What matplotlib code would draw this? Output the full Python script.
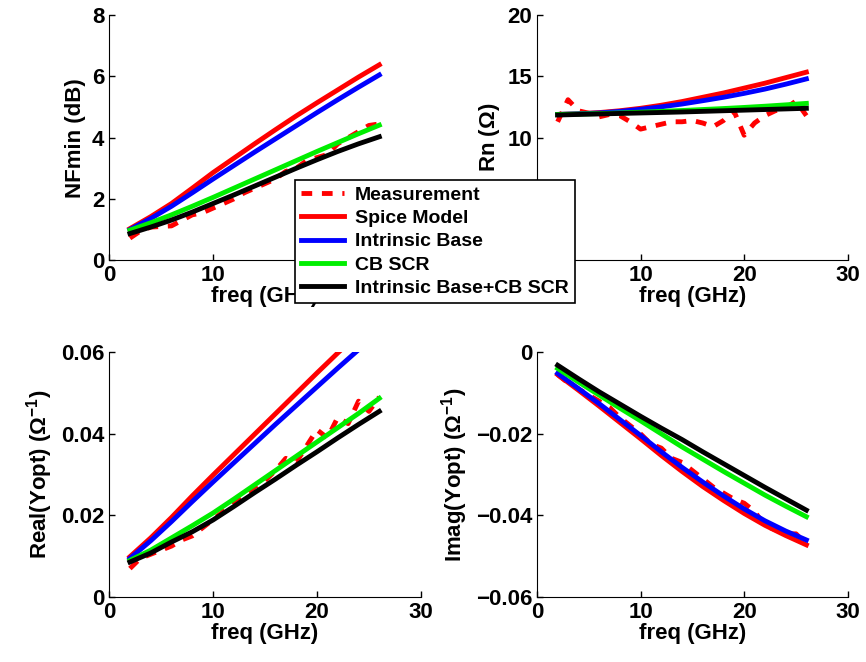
import numpy as np
import matplotlib
matplotlib.use("Agg")
from matplotlib import pyplot as plt

plt.rcParams['font.family'] = ['Liberation Sans', 'DejaVu Sans']
plt.rcParams['font.weight'] = 'bold'
plt.rcParams['axes.labelweight'] = 'bold'
plt.rcParams['mathtext.fontset'] = 'custom'
plt.rcParams['mathtext.rm'] = 'Liberation Sans'
plt.rcParams['mathtext.it'] = 'Liberation Sans'

# frequencies (GHz)
f_meas = [2, 3, 4, 5, 6, 7, 8, 9, 10, 11, 12, 13, 14, 15, 16, 17, 18, 19, 20, 21, 22, 23, 24, 25, 26]
f_model = [2, 4, 6, 8, 10, 12, 14, 16, 18, 20, 22, 24, 26]

# NFmin (dB)
nf_meas = [0.72, 0.95, 1.08, 1.10, 1.12, 1.30, 1.48, 1.55, 1.70, 1.85, 2.00, 2.20, 2.35,
           2.50, 2.65, 2.90, 3.00, 3.25, 3.35, 3.45, 3.80, 4.00, 4.20, 4.40, 4.45]
nf_spice = [1.03, 1.42, 1.85, 2.35, 2.86, 3.33, 3.80, 4.26, 4.71, 5.14, 5.56, 5.98, 6.38]
nf_base = [1.00, 1.36, 1.76, 2.20, 2.65, 3.09, 3.53, 3.96, 4.39, 4.82, 5.24, 5.65, 6.05]
nf_cb = [0.98, 1.22, 1.48, 1.76, 2.05, 2.35, 2.65, 2.95, 3.25, 3.55, 3.84, 4.13, 4.41]
nf_both = [0.87, 1.08, 1.31, 1.57, 1.85, 2.13, 2.42, 2.71, 3.00, 3.28, 3.55, 3.80, 4.03]

# Rn (Ohm)
rn_meas = [11.3, 13.1, 12.2, 12.0, 11.7, 11.9, 11.8, 11.3, 10.7, 10.9, 11.1, 11.3, 11.3,
           11.4, 11.2, 10.9, 11.4, 12.2, 10.2, 11.2, 11.8, 12.2, 12.4, 13.0, 11.8]
rn_spice = [11.9, 11.95, 12.05, 12.2, 12.4, 12.65, 12.95, 13.3, 13.65, 14.05, 14.45, 14.9, 15.35]
rn_base = [11.9, 11.95, 12.02, 12.15, 12.32, 12.52, 12.75, 13.02, 13.3, 13.62, 13.97, 14.37, 14.8]
rn_cb = [11.9, 11.93, 11.97, 12.02, 12.08, 12.15, 12.22, 12.3, 12.38, 12.47, 12.57, 12.68, 12.8]
rn_both = [11.85, 11.9, 11.94, 11.98, 12.02, 12.06, 12.1, 12.15, 12.2, 12.25, 12.3, 12.35, 12.4]

# Real(Yopt) (1/Ohm)
re_meas = [0.0070, 0.0095, 0.0105, 0.0115, 0.0125, 0.0140, 0.0150, 0.0170, 0.0190, 0.0210,
           0.0235, 0.0250, 0.0270, 0.0285, 0.0310, 0.0340, 0.0330, 0.0370, 0.0410, 0.0390,
           0.0440, 0.0425, 0.0480, 0.0455, 0.0490]
re_spice = [0.0099, 0.0145, 0.0195, 0.0248, 0.0299, 0.0349, 0.0399, 0.0449, 0.0499, 0.0549,
            0.0598, 0.0646, 0.0694]
re_base = [0.0095, 0.0138, 0.0185, 0.0234, 0.0282, 0.0329, 0.0376, 0.0423, 0.0469, 0.0515,
           0.0561, 0.0606, 0.0650]
re_cb = [0.0090, 0.0115, 0.0145, 0.0175, 0.0206, 0.0240, 0.0275, 0.0310, 0.0345, 0.0380,
         0.0415, 0.0450, 0.0487]
re_both = [0.0086, 0.0108, 0.0135, 0.0160, 0.0189, 0.0222, 0.0256, 0.0289, 0.0323, 0.0356,
           0.0390, 0.0423, 0.0455]

# Imag(Yopt) (1/Ohm)
im_meas = [-0.0055, -0.0075, -0.0090, -0.0105, -0.0120, -0.0135, -0.0160, -0.0180, -0.0200,
           -0.0225, -0.0235, -0.0260, -0.0270, -0.0290, -0.0310, -0.0330, -0.0345, -0.0360,
           -0.0370, -0.0390, -0.0425, -0.0435, -0.0445, -0.0445, -0.0470]
im_spice = [-0.0055, -0.0093, -0.0132, -0.0172, -0.0212, -0.0253, -0.0292, -0.0329, -0.0363,
            -0.0395, -0.0424, -0.0449, -0.0472]
im_base = [-0.0052, -0.0089, -0.0126, -0.0165, -0.0204, -0.0244, -0.0282, -0.0318, -0.0352,
           -0.0384, -0.0413, -0.0438, -0.0460]
im_cb = [-0.0040, -0.0073, -0.0105, -0.0137, -0.0168, -0.0200, -0.0232, -0.0262, -0.0292,
         -0.0321, -0.0350, -0.0377, -0.0403]
im_both = [-0.0032, -0.0065, -0.0097, -0.0127, -0.0157, -0.0186, -0.0214, -0.0244, -0.0273,
           -0.0302, -0.0331, -0.0359, -0.0387]

labels = ["Measurement", "Spice Model", "Intrinsic Base", "CB SCR", "Intrinsic Base+CB SCR"]

fig = plt.figure(figsize=(8.66, 6.62), dpi=100)

panels = [
    ([0.126, 0.607, 0.360, 0.370], (nf_meas, nf_spice, nf_base, nf_cb, nf_both),
     (0, 8), [0, 2, 4, 6, 8], ['0', '2', '4', '6', '8'], 'NFmin (dB)'),
    ([0.620, 0.607, 0.359, 0.370], (rn_meas, rn_spice, rn_base, rn_cb, rn_both),
     (0, 20), [0, 5, 10, 15, 20], ['0', '5', '10', '15', '20'], r'Rn ($\Omega$)'),
    ([0.126, 0.098, 0.360, 0.370], (re_meas, re_spice, re_base, re_cb, re_both),
     (0, 0.06), [0, 0.02, 0.04, 0.06], ['0', '0.02', '0.04', '0.06'],
     r'Real(Yopt) ($\Omega^{-1}$)'),
    ([0.620, 0.098, 0.359, 0.370], (im_meas, im_spice, im_base, im_cb, im_both),
     (-0.06, 0), [-0.06, -0.04, -0.02, 0], ['\u22120.06', '\u22120.04', '\u22120.02', '0'],
     r'Imag(Yopt) ($\Omega^{-1}$)'),
]

handles = None
for rect, (meas, spice, base, cb, both), ylim, yt, ytl, ylab in panels:
    ax = fig.add_axes(rect)
    h0, = ax.plot(f_meas, meas, color='#ff0000', lw=3.5, ls=(0, (2.2, 2.0)))
    h1, = ax.plot(f_model, spice, color='#ff0000', lw=3.5)
    h2, = ax.plot(f_model, base, color='#0000ff', lw=3.5)
    h3, = ax.plot(f_model, cb, color='#00ee00', lw=3.5)
    h4, = ax.plot(f_model, both, color='#000000', lw=3.5)
    handles = [h0, h1, h2, h3, h4]
    ax.set_xlim(0, 30)
    ax.set_ylim(*ylim)
    ax.set_xticks([0, 10, 20, 30])
    ax.set_yticks(yt)
    ax.set_yticklabels(ytl)
    ax.spines['top'].set_visible(False)
    ax.spines['right'].set_visible(False)
    ax.tick_params(direction='in', length=4, labelsize=16, width=1)
    ax.set_xlabel('freq (GHz)', fontsize=16, labelpad=0)
    ax.set_ylabel(ylab, fontsize=16, labelpad=4)

leg = fig.legend(handles, labels, loc='upper left', bbox_to_anchor=(0.3406, 0.728),
                 borderaxespad=0, fontsize=14, frameon=True, fancybox=False,
                 edgecolor='black', framealpha=1, handlelength=2.2, handletextpad=0.6,
                 labelspacing=0.3, borderpad=0.3)
leg.get_frame().set_linewidth(1.2)
leg.set_zorder(10)

fig.savefig('out.png', dpi=100)
